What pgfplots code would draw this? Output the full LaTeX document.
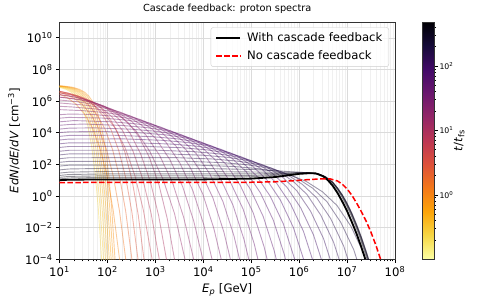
\documentclass[border=0pt]{standalone}
\usepackage{fontspec}
\setmainfont{DejaVu Sans}
\usepackage{pgfplots}
\pgfplotsset{compat=1.18}
\pgfplotsset{
  colormap={infr}{rgb255=(252,255,164) rgb255=(246,215,70) rgb255=(252,165,10) rgb255=(243,120,25) rgb255=(221,81,58) rgb255=(188,55,84) rgb255=(147,38,103) rgb255=(106,23,110) rgb255=(66,10,104) rgb255=(22,11,57) rgb255=(0,0,4)},
  tc/.style={color of colormap={#1}, draw opacity=0.42, line width=0.9bp, line join=round, forget plot, mark=none},
}
\newcommand{\fs}[1]{\fontsize{#1}{#1}\selectfont}
\begin{document}
\begin{tikzpicture}
\useasboundingbox (0,0) rectangle (488bp,305bp);
\begin{axis}[
  at={(59.5bp,45.7bp)}, anchor=south west,
  scale only axis, width=335.5bp, height=237.3bp,
  xmin=1, xmax=8, ymin=-4, ymax=11,
  colormap name=infr,
  point meta min=-1, point meta max=2.68,
  xtick={1,2,3,4,5,6,7,8},
  xticklabels={10\textsuperscript{1},10\textsuperscript{2},10\textsuperscript{3},10\textsuperscript{4},10\textsuperscript{5},10\textsuperscript{6},10\textsuperscript{7},10\textsuperscript{8}},
  ytick={-4,-2,0,2,4,6,8,10},
  yticklabels={10\textsuperscript{−4},10\textsuperscript{−2},10\textsuperscript{0},10\textsuperscript{2},10\textsuperscript{4},10\textsuperscript{6},10\textsuperscript{8},10\textsuperscript{10}},
  minor xtick={1.301,1.477,1.602,1.699,1.778,1.845,1.903,1.954,2.301,2.477,2.602,2.699,2.778,2.845,2.903,2.954,3.301,3.477,3.602,3.699,3.778,3.845,3.903,3.954,4.301,4.477,4.602,4.699,4.778,4.845,4.903,4.954,5.301,5.477,5.602,5.699,5.778,5.845,5.903,5.954,6.301,6.477,6.602,6.699,6.778,6.845,6.903,6.954,7.301,7.477,7.602,7.699,7.778,7.845,7.903,7.954},
  grid=both,
  major grid style={black!14, line width=0.6bp},
  minor grid style={black!6, line width=0.5bp},
  tick align=outside,
  xtick pos=left, ytick pos=left,
  major tick length=3.5bp, minor tick length=2bp,
  every tick/.style={black, line width=0.7bp},
  axis line style={black!80, line width=0.8bp},
  tick label style={font=\fs{11.7}},
  xlabel={\textit{E}\textsubscript{\textit{p}} [GeV]},
  xlabel style={font=\fs{11.7}, at={(axis description cs:0.5,-0.142)}, anchor=base},
  ylabel={\textit{EdN}/\textit{dE}/\textit{dV} [cm\textsuperscript{−3}]},
  ylabel style={font=\fs{11.7}, at={(axis description cs:-0.1356,0.5)}, anchor=center},
  title={Cascade feedback: proton spectra},
  title style={font=\fs{9.8}, at={(axis description cs:0.5,1.019)}, anchor=base},
  legend style={at={(1,1)}, anchor=north east, xshift=-6bp, yshift=-5.3bp, draw=black!20, fill=white, fill opacity=0.8, text opacity=1, rounded corners=2.5bp, font=\fs{11.7}, inner xsep=4.5bp, inner ysep=3.5bp, row sep=3.5bp, /tikz/every odd column/.append style={column sep=4bp}},
  legend cell align=left,
  legend image code/.code={\draw[#1] (0bp,0bp) -- (24bp,0bp);},
  colorbar,
  colorbar style={
    at={(parent axis.north east)}, anchor=north west, xshift=18.5bp,
    scale only axis, width=12bp, height=237.3bp,
    ytick={0,1,2},
    yticklabels={10\textsuperscript{0},10\textsuperscript{1},10\textsuperscript{2}},
    minor ytick={-0.699,-0.523,-0.398,-0.301,-0.222,-0.155,-0.097,-0.046,0.301,0.477,0.602,0.699,0.778,0.845,0.903,0.954,1.301,1.477,1.602,1.699,1.778,1.845,1.903,1.954,2.301,2.477,2.602},
    ytick pos=right, yticklabel pos=right,
    tick align=outside,
    major tick length=3.5bp, minor tick length=2bp,
    every tick/.style={black, line width=0.6bp},
    yticklabel style={font=\fs{7.8}, xshift=-1.5bp},
    ylabel={\textit{t}/\textit{t}\textsubscript{fs}},
    ylabel style={font=\fs{11.7}, at={(axis description cs:3.1,0.5)}, anchor=center},
    axis line style={black!80, line width=0.8bp},
  },
]
% yellow (early)
\addplot[tc=100] coordinates {(1,6.87)(1.139,6.74)(1.24,6.57)(1.333,6.31)(1.421,5.92)(1.514,5.26)(1.594,4.40)(1.674,3.09)(1.746,1.36)(1.81,-0.81)(1.875,-3.85)(1.93,-7.32)};
\addplot[tc=121] coordinates {(1,6.90)(1.042,6.87)(1.179,6.74)(1.28,6.57)(1.373,6.31)(1.461,5.92)(1.554,5.26)(1.634,4.40)(1.714,3.09)(1.786,1.36)(1.85,-0.81)(1.915,-3.85)(1.97,-7.32)};
\addplot[tc=143] coordinates {(1,6.91)(1.082,6.87)(1.219,6.74)(1.32,6.57)(1.413,6.31)(1.501,5.92)(1.594,5.26)(1.674,4.40)(1.754,3.09)(1.826,1.36)(1.89,-0.81)(1.955,-3.85)(2.01,-7.32)};
\addplot[tc=164] coordinates {(1,6.93)(1.122,6.87)(1.259,6.74)(1.36,6.57)(1.453,6.31)(1.541,5.92)(1.634,5.26)(1.714,4.40)(1.794,3.09)(1.866,1.36)(1.93,-0.81)(1.995,-3.85)(2.05,-7.32)};
\addplot[tc=186] coordinates {(1,6.94)(1.162,6.87)(1.299,6.74)(1.40,6.57)(1.493,6.31)(1.581,5.92)(1.674,5.26)(1.754,4.40)(1.834,3.09)(1.906,1.36)(1.97,-0.81)(2.035,-3.85)(2.09,-7.32)};
\addplot[tc=207] coordinates {(1,6.95)(1.202,6.87)(1.339,6.74)(1.44,6.57)(1.533,6.31)(1.621,5.92)(1.714,5.26)(1.794,4.40)(1.874,3.09)(1.946,1.36)(2.01,-0.81)(2.075,-3.85)(2.13,-7.32)};
\addplot[tc=229] coordinates {(1,6.96)(1.242,6.87)(1.379,6.74)(1.48,6.57)(1.573,6.31)(1.661,5.92)(1.754,5.26)(1.834,4.40)(1.914,3.09)(1.986,1.36)(2.05,-0.81)(2.115,-3.85)(2.17,-7.32)};
\addplot[tc=250] coordinates {(1,6.97)(1.065,6.96)(1.282,6.87)(1.419,6.74)(1.52,6.57)(1.613,6.31)(1.701,5.92)(1.794,5.26)(1.874,4.40)(1.954,3.09)(2.026,1.36)(2.09,-0.81)(2.155,-3.85)(2.21,-7.32)};
% orange to pink
\addplot[tc=271.7] coordinates {(1.0,6.44)(1.165,6.21)(1.342,5.82)(1.527,5.16)(1.687,4.30)(1.847,2.99)(1.993,1.26)(2.121,-0.91)(2.251,-3.95)(2.361,-7.42)};
\addplot[tc=312.5] coordinates {(1.0,6.55)(1.11,6.45)(1.295,6.19)(1.472,5.80)(1.657,5.14)(1.817,4.28)(1.977,2.97)(2.123,1.24)(2.251,-0.93)(2.381,-3.97)(2.491,-7.44)};
\addplot[tc=353.3] coordinates {(1.0,6.61)(1.038,6.59)(1.24,6.42)(1.425,6.16)(1.602,5.77)(1.787,5.11)(1.947,4.25)(2.107,2.94)(2.253,1.21)(2.381,-0.96)(2.511,-4.0)(2.621,-7.47)};
\addplot[tc=394.0] coordinates {(1.0,6.61)(1.168,6.52)(1.37,6.35)(1.555,6.09)(1.732,5.70)(1.917,5.04)(2.077,4.18)(2.237,2.87)(2.383,1.14)(2.511,-1.03)(2.641,-4.07)(2.751,-7.54)};
\addplot[tc=434.8] coordinates {(1.0,6.53)(1.025,6.52)(1.298,6.39)(1.50,6.22)(1.685,5.96)(1.862,5.57)(2.047,4.91)(2.207,4.05)(2.367,2.74)(2.513,1.01)(2.641,-1.16)(2.771,-4.2)};
\addplot[tc=475.5] coordinates {(1.0,6.62)(1.18,6.50)(1.435,6.24)(1.678,5.85)(1.933,5.19)(2.153,4.33)(2.373,3.02)(2.573,1.29)(2.749,-0.88)(2.928,-3.92)(3.079,-7.39)};
\addplot[tc=516.3] coordinates {(1.0,6.52)(1.062,6.49)(1.34,6.32)(1.595,6.06)(1.838,5.67)(2.093,5.01)(2.313,4.15)(2.533,2.84)(2.733,1.11)(2.909,-1.06)(3.088,-4.10)};
\addplot[tc=543.5] coordinates {(1.0,6.40)(1.222,6.31)(1.50,6.14)(1.755,5.88)(1.998,5.49)(2.253,4.83)(2.473,3.97)(2.693,2.66)(2.893,0.93)(3.069,-1.24)(3.248,-4.28)};
\addplot[tc=570.7] coordinates {(1.0,6.25)(1.026,6.24)(1.402,6.11)(1.68,5.94)(1.935,5.68)(2.178,5.29)(2.433,4.63)(2.653,3.77)(2.873,2.46)(3.073,0.73)(3.249,-1.44)(3.428,-4.48)};
% mauve to purple
\addplot[tc=597.8] coordinates {(1,6.41)(1.30,6.27)(1.64,6.01)(1.96,5.62)(2.30,4.96)(2.60,4.10)(2.89,2.79)(3.16,1.06)(3.40,-1.11)(3.63,-4.15)};
\addplot[tc=612.8] coordinates {(1,6.25)(1.13,6.21)(1.50,6.04)(1.84,5.78)(2.16,5.39)(2.50,4.73)(2.80,3.87)(3.09,2.56)(3.36,0.83)(3.59,-1.34)(3.83,-4.38)};
\addplot[tc=627.7] coordinates {(1,6.07)(1.34,5.97)(1.71,5.80)(2.05,5.54)(2.37,5.15)(2.71,4.49)(3.01,3.63)(3.30,2.32)(3.57,0.59)(3.80,-1.58)(4.04,-4.62)};
\addplot[tc=642.7] coordinates {(1,5.88)(1.05,5.87)(1.55,5.74)(1.92,5.57)(2.26,5.31)(2.58,4.92)(2.92,4.26)(3.22,3.40)(3.51,2.09)(3.78,0.36)(4.01,-1.81)(4.25,-4.85)};
\addplot[tc=657.6] coordinates {(1,5.67)(1.26,5.63)(1.76,5.50)(2.13,5.33)(2.47,5.07)(2.79,4.68)(3.13,4.02)(3.43,3.16)(3.72,1.85)(3.99,0.12)(4.22,-2.05)(4.46,-5.09)};
\addplot[tc=672.6] coordinates {(1,5.46)(1.47,5.40)(1.97,5.27)(2.34,5.10)(2.68,4.84)(3.00,4.45)(3.34,3.79)(3.64,2.93)(3.93,1.62)(4.20,-0.11)(4.43,-2.28)(4.67,-5.32)};
\addplot[tc=687.5] coordinates {(1,5.14)(1.2,5.18)(1.68,5.16)(2.18,5.03)(2.55,4.86)(2.89,4.60)(3.21,4.21)(3.55,3.55)(3.85,2.69)(4.14,1.38)(4.41,-0.35)(4.64,-2.52)(4.88,-5.56)};
\addplot[tc=702.5] coordinates {(1,4.92)(1.2,4.97)(1.89,4.93)(2.39,4.80)(2.76,4.63)(3.10,4.37)(3.42,3.98)(3.76,3.32)(4.06,2.46)(4.35,1.15)(4.62,-0.58)(4.85,-2.75)(5.09,-5.79)};
\addplot[tc=717.4] coordinates {(1,4.69)(1.2,4.74)(1.30,4.77)(2.10,4.69)(2.60,4.56)(2.97,4.39)(3.31,4.13)(3.63,3.74)(3.97,3.08)(4.27,2.22)(4.56,0.91)(4.83,-0.82)(5.06,-2.99)(5.30,-6.03)};
\addplot[tc=732.4] coordinates {(1,4.47)(1.2,4.52)(1.51,4.55)(2.31,4.46)(2.81,4.33)(3.18,4.16)(3.52,3.90)(3.84,3.51)(4.18,2.85)(4.48,1.99)(4.77,0.68)(5.04,-1.05)(5.27,-3.22)(5.51,-6.26)};
\addplot[tc=747.3] coordinates {(1,4.23)(1.2,4.29)(1.72,4.31)(2.52,4.22)(3.02,4.09)(3.39,3.92)(3.73,3.66)(4.05,3.27)(4.39,2.61)(4.69,1.75)(4.98,0.44)(5.25,-1.29)(5.48,-3.46)(5.72,-6.50)};
\addplot[tc=762.2] coordinates {(1,4.01)(1.2,4.06)(1.93,4.08)(2.73,3.99)(3.23,3.86)(3.60,3.69)(3.94,3.43)(4.26,3.04)(4.60,2.38)(4.90,1.52)(5.19,0.21)(5.46,-1.52)(5.69,-3.69)(5.93,-6.73)};
\addplot[tc=777.2] coordinates {(1,3.77)(1.2,3.83)(2.14,3.84)(2.94,3.75)(3.44,3.62)(3.81,3.45)(4.15,3.19)(4.47,2.80)(4.81,2.14)(5.11,1.28)(5.40,-0.03)(5.67,-1.76)(5.90,-3.93)(6.14,-6.97)};
\addplot[tc=792.1] coordinates {(1,3.54)(1.2,3.60)(2.35,3.61)(3.15,3.52)(3.65,3.39)(4.02,3.22)(4.36,2.96)(4.68,2.57)(5.02,1.91)(5.32,1.05)(5.61,-0.26)(5.88,-1.99)(6.11,-4.16)};
\addplot[tc=807.1] coordinates {(1,3.30)(1.2,3.36)(2.56,3.37)(3.36,3.28)(3.86,3.15)(4.23,2.98)(4.57,2.72)(4.89,2.33)(5.23,1.67)(5.53,0.81)(5.82,-0.50)(6.09,-2.23)(6.32,-4.40)};
\addplot[tc=822.0] coordinates {(1,3.07)(1.2,3.13)(2.77,3.14)(3.57,3.05)(4.07,2.92)(4.44,2.75)(4.78,2.49)(5.10,2.10)(5.44,1.44)(5.74,0.58)(6.03,-0.73)(6.30,-2.46)(6.53,-4.63)};
\addplot[tc=837.0] coordinates {(1,2.83)(1.2,2.89)(2.98,2.90)(3.78,2.81)(4.28,2.68)(4.65,2.51)(4.99,2.25)(5.31,1.86)(5.65,1.20)(5.95,0.34)(6.24,-0.97)(6.51,-2.70)(6.74,-4.87)};
\addplot[tc=851.9] coordinates {(1,2.60)(1.2,2.66)(3.19,2.67)(3.99,2.58)(4.49,2.45)(4.86,2.28)(5.20,2.02)(5.52,1.63)(5.86,0.97)(6.16,0.11)(6.45,-1.20)(6.72,-2.93)(6.95,-5.10)};
\addplot[tc=866.8] coordinates {(1,2.36)(1.2,2.42)(3.40,2.43)(4.20,2.34)(4.70,2.21)(5.07,2.04)(5.41,1.78)(5.73,1.39)(6.07,0.73)(6.37,-0.13)(6.66,-1.44)(6.93,-3.17)(7.16,-5.34)};
\addplot[tc=881.8] coordinates {(1,2.13)(1.2,2.19)(3.61,2.20)(4.41,2.11)(4.91,1.98)(5.28,1.81)(5.62,1.55)(5.94,1.16)(6.28,0.50)(6.58,-0.36)(6.87,-1.67)(7.14,-3.40)(7.37,-5.57)};
\addplot[tc=896.7] coordinates {(1,1.89)(1.2,1.95)(3.82,1.96)(4.62,1.87)(5.12,1.74)(5.49,1.57)(5.83,1.31)(6.15,0.92)(6.49,0.26)(6.79,-0.60)(7.08,-1.91)(7.35,-3.64)(7.58,-5.81)};
% late (dark purple)
\addplot[tc=918.5] coordinates {(1,1.65)(1.2,1.71)(2,1.75)(3,1.75)(4,1.74)(5,1.68)(5.5,1.60)(5.9,1.52)(6.2,1.47)(6.4,1.38)(6.55,1.20)(6.7,0.85)(6.8,0.50)(6.9,0.05)(7.0,-0.50)(7.1,-1.15)(7.2,-1.90)(7.3,-2.70)(7.4,-3.60)(7.45,-4.10)};
\addplot[tc=940.2] coordinates {(1,1.45)(1.2,1.51)(2,1.55)(3,1.55)(4,1.55)(5,1.52)(5.5,1.50)(5.9,1.50)(6.2,1.48)(6.4,1.40)(6.55,1.22)(6.7,0.88)(6.8,0.52)(6.9,0.08)(7.0,-0.45)(7.1,-1.08)(7.2,-1.80)(7.3,-2.60)(7.4,-3.50)(7.46,-4.10)};
\addplot[tc=962.0] coordinates {(1,1.30)(1.2,1.36)(2,1.40)(3,1.40)(4,1.40)(5,1.40)(5.5,1.42)(5.9,1.46)(6.2,1.47)(6.4,1.40)(6.55,1.22)(6.7,0.88)(6.8,0.50)(6.9,0.05)(7.0,-0.50)(7.1,-1.12)(7.2,-1.85)(7.3,-2.65)(7.4,-3.55)(7.46,-4.10)};
\addplot[tc=978.3] coordinates {(1,1.18)(1.2,1.24)(2,1.28)(3,1.28)(4,1.28)(5,1.30)(5.5,1.36)(5.9,1.44)(6.2,1.47)(6.4,1.40)(6.55,1.20)(6.7,0.85)(6.8,0.45)(6.9,-0.02)(7.0,-0.58)(7.1,-1.22)(7.2,-1.95)(7.3,-2.78)(7.4,-3.70)(7.44,-4.10)};
\addplot[tc=991.9] coordinates {(1,1.08)(1.2,1.14)(2,1.18)(3,1.18)(4,1.18)(5,1.22)(5.5,1.30)(5.9,1.40)(6.2,1.45)(6.4,1.39)(6.55,1.18)(6.7,0.80)(6.8,0.40)(6.9,-0.10)(7.0,-0.68)(7.1,-1.33)(7.2,-2.08)(7.3,-2.92)(7.4,-3.85)(7.42,-4.05)};
% final curves
\addplot[black, line width=1.8bp, line join=round] coordinates {(1,1.00)(1.2,1.03)(2,1.05)(3,1.05)(4,1.05)(5,1.10)(5.5,1.20)(5.8,1.32)(6.0,1.40)(6.2,1.44)(6.35,1.43)(6.5,1.25)(6.6,1.00)(6.7,0.65)(6.8,0.20)(6.9,-0.35)(7.0,-0.95)(7.1,-1.65)(7.2,-2.40)(7.3,-3.25)(7.38,-4.00)};
\addlegendentry{With cascade feedback}
\addplot[red, line width=1.5bp, dash pattern=on 5.5bp off 2.4bp] coordinates {(1,0.85)(2,0.86)(3,0.86)(4,0.86)(5,0.87)(5.5,0.90)(5.9,0.97)(6.2,1.04)(6.45,1.08)(6.65,1.08)(6.8,0.95)(6.9,0.75)(7.0,0.45)(7.1,0.05)(7.2,-0.45)(7.3,-1.00)(7.4,-1.60)(7.5,-2.30)(7.6,-3.10)(7.7,-4.00)};
\addlegendentry{No cascade feedback}
\end{axis}
\end{tikzpicture}
\end{document}
